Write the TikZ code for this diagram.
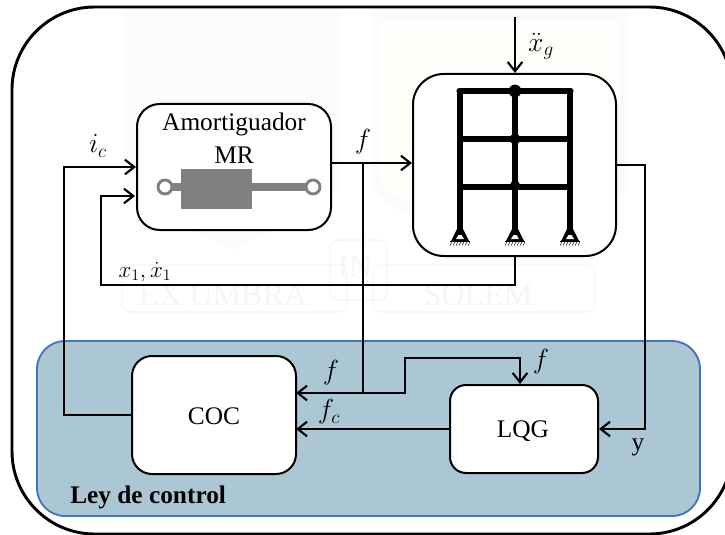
\documentclass[tikz,border=0pt]{standalone}
\usepackage{fontspec}
\setmainfont{Liberation Serif}
\usetikzlibrary{arrows.meta}
\definecolor{bluefill}{HTML}{ABC7D4}
\definecolor{blueedge}{HTML}{4472C4}
\definecolor{dampgray}{HTML}{808080}
\definecolor{wmblue}{HTML}{F9FBFD}
\definecolor{wmyellow}{HTML}{FFFEFB}
\definecolor{wmgray}{HTML}{F5F5F5}
\tikzset{
  every node/.style={font=\fontsize{19}{22}\selectfont},
  blockbox/.style={draw=black,fill=white,line width=1.5pt,inner sep=0pt},
  conn/.style={draw=black,line width=1.8pt},
  arr/.style={conn,-{Straight Barb[length=7pt,width=11pt,line width=1.6pt]}},
  member/.style={line width=3.8pt,draw=black},
  wmtext/.style={text=wmgray,inner sep=0pt,font=\fontsize{24}{26}\selectfont},
  mathlab/.style={inner sep=0pt,font=\fontsize{22}{26}\selectfont},
  mathsmall/.style={inner sep=0pt,font=\fontsize{18.5}{22}\selectfont},
}
\begin{document}
\begin{tikzpicture}[x=0.75pt,y=-0.75pt]
\useasboundingbox (0,0) rectangle (725,535);
\fill[white] (0,0) rectangle (725,535);
% faint watermark
\fill[wmblue] (123,8) -- (340,8) -- (340,180) .. controls (340,215) and (270,225) .. (233,250) .. controls (196,225) and (123,215) .. (123,180) -- cycle;
\fill[wmblue] (373,8) -- (627,8) -- (627,180) .. controls (627,215) and (540,225) .. (500,250) .. controls (460,225) and (373,215) .. (373,180) -- cycle;
\fill[wmyellow] (380,22) -- (618,22) -- (618,175) .. controls (618,205) and (535,218) .. (500,240) .. controls (465,218) and (380,205) .. (380,175) -- cycle;
\draw[wmgray,line width=1pt,rounded corners=6pt] (122,265) rectangle (347,312);
\draw[wmgray,line width=1pt,rounded corners=6pt] (373,265) rectangle (595,312);
\draw[wmgray,line width=1pt,rounded corners=6pt] (330,240) rectangle (387,300);
\node[wmtext] (wma) at (223,295) {EX UMBRA};
\node[wmtext] (wmb) at (478,295) {SOLEM};
\node[wmtext] (wmc) at (355,267) {IN};
% outer frame
\begin{scope}
\clip (0,0) rectangle (725,535);
\draw[line width=2.2pt,rounded corners=62pt] (12,7) rectangle (732,534);
\end{scope}
% control-law region
\draw[draw=blueedge,fill=bluefill,line width=1.4pt,rounded corners=21pt] (37,341) rectangle (700,516);
% blocks
\node[blockbox,rounded corners=17pt,minimum width=145.5pt,minimum height=94.5pt] (amort) at (234,167) {};
\node[blockbox,rounded corners=23pt,minimum width=152.25pt,minimum height=136.5pt] (struct) at (514.5,165) {};
\node[blockbox,rounded corners=15pt,minimum width=123pt,minimum height=88.5pt] (coc) at (214,415) {};
\node[blockbox,rounded corners=12pt,minimum width=111pt,minimum height=66pt] (lqg) at (524,429) {};
\node (coctext) at (214,416) {COC};
\node (lqgtext) at (523,431) {LQG};
\node (amorttext) at (234,124) {Amortiguador};
\node (mrtext) at (234,155) {MR};
\node[font=\fontsize{19}{22}\bfseries\selectfont,anchor=west,inner sep=0pt] (ley) at (70,497) {Ley de control};
% damper
\fill[dampgray] (165,183) rectangle (313,191);
\node[fill=dampgray,inner sep=0pt,minimum width=53.25pt,minimum height=30pt] (piston) at (216.5,189) {};
\node[circle,draw=dampgray,fill=white,line width=2.2pt,inner sep=0pt,minimum size=10.5pt] (eyeL) at (165,187) {};
\node[circle,draw=dampgray,fill=white,line width=2.2pt,inner sep=0pt,minimum size=10.5pt] (eyeR) at (313,187) {};
% frame
\foreach \xx in {460,515,570}{\draw[member] (\xx,91) -- (\xx,233);}
\draw[member,line cap=round] (459,91) -- (571,91);
\draw[member] (460,139) -- (570,139);
\draw[member] (460,187) -- (570,187);
\fill (515,91) circle (4.8pt);
\fill (515,139) circle (4pt);
\fill (515,186) circle (4pt);
\foreach \xx in {460,515,570}{
  \fill (\xx-3,229) -- (\xx+3,229) -- (\xx+9,241) -- (\xx-9,241) -- cycle;
  \fill[white] (\xx-1.5,235) -- (\xx+1.5,235) -- (\xx+4,239) -- (\xx-4,239) -- cycle;
  \draw[line width=1.2pt] (\xx-10,241.5) -- (\xx+10,241.5);
  \foreach \dd in {-10,-7,...,8}{\draw[line width=0.35pt] (\xx+\dd,245.5) -- (\xx+\dd+2,242);}
}
% connector corners
\coordinate (gtop) at (515,17);
\coordinate (fy) at (0,163);
\coordinate (fjoin) at (363,163);
\coordinate (icl) at (64,167);
\coordinate (xl) at (101,285);
\coordinate (xin) at (135,196);
\coordinate (fa) at (363,393);
\coordinate (fb) at (405,393);
\coordinate (fc) at (405,358);
\coordinate (fd) at (520,358);
\coordinate (yo) at (645,165);
\coordinate (yi) at (645,429);
\coordinate (cocf) at (296,393);
\coordinate (cocc) at (296,429);
% connectors
\draw[arr] (gtop) -- (struct.north -| gtop);
\draw[arr] (amort.east |- fy) -- (struct.west |- fy);
\draw[arr] (coc.west) -| (icl) -- (amort.west);
\draw[arr] (struct.south -| gtop) |- (xl) |- (xin);
\draw[conn] (fjoin) -- (fa);
\draw[arr] (fb) -- (cocf);
\draw[arr] (fa) -| (fc) -- (fd) -- (lqg.north -| fd);
\draw[arr] (lqg.west) -- (cocc);
\draw[arr] (struct.east) -- (yo) -- (yi) -- (lqg.east);
% labels
\node[mathlab] (lic) at (98,146) {$i_c$};
\node[mathlab] (lf1) at (363,142) {$f$};
\node[mathlab] (lg) at (541,46) {$\ddot{x}_g$};
\node[mathsmall] (lx) at (145,272) {$x_1,\dot{x}_1$};
\node[mathlab] (lf2) at (331,373) {$f$};
\node[mathlab] (lfc) at (329,412) {$f_c$};
\node[mathlab] (lf3) at (541,362) {$f$};
\node (ly) at (638,447) {y};
\end{tikzpicture}
\end{document}
